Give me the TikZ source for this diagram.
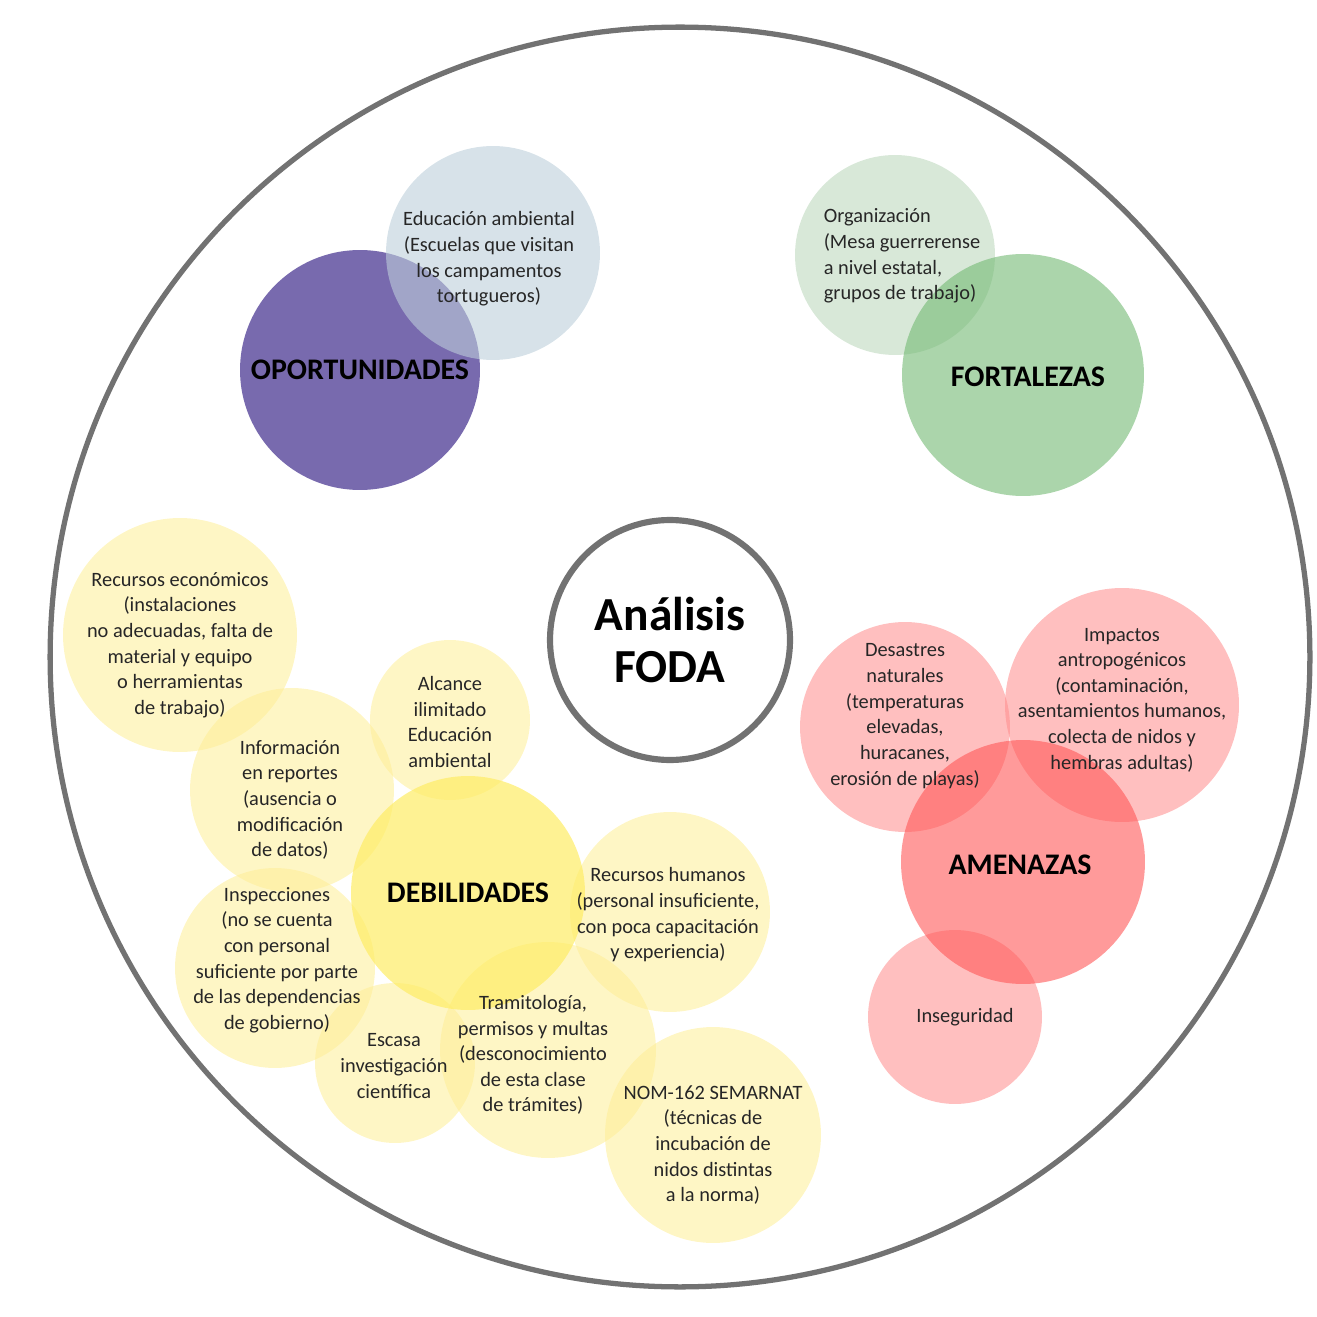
\documentclass[tikz,border=0pt]{standalone}
\usepackage{fontspec}
\setmainfont{Carlito}
\begin{document}
\begin{tikzpicture}[x=0.02cm,y=-0.02cm,
    bubble/.style={circle,draw=none,fill opacity=0.55,inner sep=0pt},
    txt/.style={align=center,inner sep=0pt,text=black!85,font=\fontsize{11.6}{14.6}\selectfont},
    head/.style={text=black,font=\fontsize{17}{20}\selectfont\bfseries},
    yel/.style={bubble,fill=yellow!75!orange!40!white},
    red/.style={bubble,fill=red!60!pink!65},
    ]
    \useasboundingbox (0,0) rectangle (1317,1317);

    %% marco
    \node [circle,draw=gray!70!black!85,line width=3pt,minimum size=25.2cm,inner sep=0pt] (marco) at (680,657) {};

    %% oportunidades
    \node [bubble,fill=violet!35!blue!55!black!75,fill opacity=0.78,minimum size=4.8cm] (opor) at (360,370) {};
    \node [bubble,fill=blue!40!cyan!30!gray!40,fill opacity=0.6,minimum size=4.28cm] (edu) at (493,253) {};
    \node [txt,head] at (opor) {OPORTUNIDADES};
    \node [txt] at (489,259) {Educación ambiental\\(Escuelas que visitan\\los campamentos\\tortugueros)};

    %% fortalezas
    \node [bubble,fill=green!40!black!30,fill opacity=0.5,minimum size=4cm] (orga) at (895,255) {};
    \node [bubble,fill=green!50!black!55,fill opacity=0.6,minimum size=4.84cm] (fort) at (1023,375) {};
    \node [txt,head] at (1028,377) {FORTALEZAS};
    \node [txt,align=left] at (902,256) {Organización\\(Mesa guerrerense\\a nivel estatal,\\grupos de trabajo)};

    %% centro
    \node [circle,draw=gray!70!black!85,line width=3.5pt,minimum size=4.8cm,align=center,font=\fontsize{27}{30}\selectfont\bfseries] (foda) at (670,640) {Análisis\\FODA};

    %% debilidades
    \node [yel,minimum size=4.68cm] (eco) at (180,635) {};
    \node [yel,minimum size=4.08cm] (info) at (292,790) {};
    \node [yel,minimum size=3.2cm] (alc) at (450,720) {};
    \node [yel,minimum size=4cm] (hum) at (670,912) {};
    \node [yel,minimum size=4cm] (insp) at (275,968) {};
    \node [yel,minimum size=3.2cm] (esc) at (395,1063) {};
    \node [yel,minimum size=4.32cm] (tram) at (548,1050) {};
    \node [yel,minimum size=4.32cm] (nom) at (713,1135) {};
    \node [yel,fill=yellow!85!orange!60,fill opacity=0.7,minimum size=4.68cm] (deb) at (468,893) {};
    \node [txt] at (180,645) {Recursos económicos\\(instalaciones\\no adecuadas, falta de\\material y equipo\\o herramientas\\de trabajo)};
    \node [txt] at (290,800) {Información\\en reportes\\(ausencia o\\modificación\\de datos)};
    \node [txt] at (450,722) {Alcance\\ilimitado\\Educación\\ambiental};
    \node [txt,head] at (deb) {DEBILIDADES};
    \node [txt] at (668,915) {Recursos humanos\\(personal insuficiente,\\con poca capacitación\\y experiencia)};
    \node [txt] at (277,960) {Inspecciones\\(no se cuenta\\con personal\\suficiente por parte\\de las dependencias\\de gobierno)};
    \node [txt] at (394,1066) {Escasa\\investigación\\científica};
    \node [txt] at (533,1055) {Tramitología,\\permisos y multas\\(desconocimiento\\de esta clase\\de trámites)};
    \node [txt] at (713,1145) {NOM-162 SEMARNAT\\(técnicas de\\incubación de\\nidos distintas\\a la norma)};

    %% amenazas
    \node [red,minimum size=4.2cm] (des) at (905,727) {};
    \node [red,minimum size=4.68cm] (imp) at (1122,705) {};
    \node [red,minimum size=3.48cm] (inse) at (955,1017) {};
    \node [red,fill=red!70!pink!85,fill opacity=0.6,minimum size=4.88cm] (amen) at (1023,862) {};
    \node [txt] at (905,716) {Desastres\\naturales\\(temperaturas\\elevadas,\\huracanes,\\erosión de playas)};
    \node [txt] at (1122,700) {Impactos\\antropogénicos\\(contaminación,\\asentamientos humanos,\\colecta de nidos y\\hembras adultas)};
    \node [txt] at (965,1017) {Inseguridad};
    \node [txt,head] at (1020,865) {AMENAZAS};
\end{tikzpicture}
\end{document}
